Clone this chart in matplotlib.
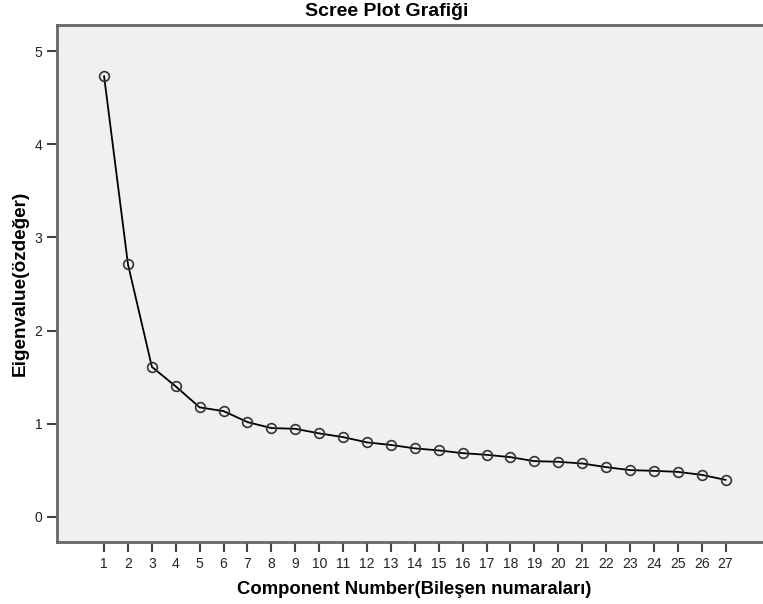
import matplotlib.pyplot as plt

# Scree plot verileri (özdeğerler)
bilesenler = list(range(1, 28))
ozdegerler = [4.73, 2.71, 1.61, 1.40, 1.175, 1.135, 1.017, 0.953, 0.945, 0.896,
              0.856, 0.799, 0.772, 0.735, 0.713, 0.684, 0.666, 0.641, 0.598, 0.591,
              0.573, 0.534, 0.502, 0.494, 0.483, 0.451, 0.397]
y_ticks = [0, 1, 2, 3, 4, 5]

plt.rcParams['font.family'] = ['Liberation Sans', 'DejaVu Sans']

fig = plt.figure(figsize=(7.63, 6.04), dpi=100)
ax = fig.add_axes([57 / 763, 62 / 604, (775 - 57) / 763, (542 - 25) / 604])
ax.set_facecolor('#f0f0f0')

ax.plot(bilesenler, ozdegerler, color='black', linewidth=1.3, marker='o',
        markersize=7, markerfacecolor='none', markeredgecolor='#333333',
        markeredgewidth=1.2)

ax.set_xlim(-0.97, 29.07)
ax.set_ylim(-0.27, 5.28)
ax.set_xticks(bilesenler)
ax.set_yticks(y_ticks)
ax.tick_params(axis='both', direction='out', length=7, width=1.5, color='#444444',
               labelsize=10, labelcolor='#222222')

for s in ['left', 'top', 'bottom']:
    ax.spines[s].set_color('#666666')
    ax.spines[s].set_linewidth(2)
ax.spines['right'].set_visible(False)

fig.text(387 / 763, 1 - 12 / 604, 'Scree Plot Grafiği', ha='center', va='center',
         fontsize=14, fontweight='bold')
fig.text(414 / 763, 1 - 590 / 604, 'Component Number(Bileşen numaraları)',
         ha='center', va='center', fontsize=13.3, fontweight='bold')
fig.text(20 / 763, 1 - 283 / 604, 'Eigenvalue(özdeğer)', ha='center', va='center',
         rotation=90, fontsize=13.7, fontweight='bold')

plt.savefig('out.png', dpi=100)
